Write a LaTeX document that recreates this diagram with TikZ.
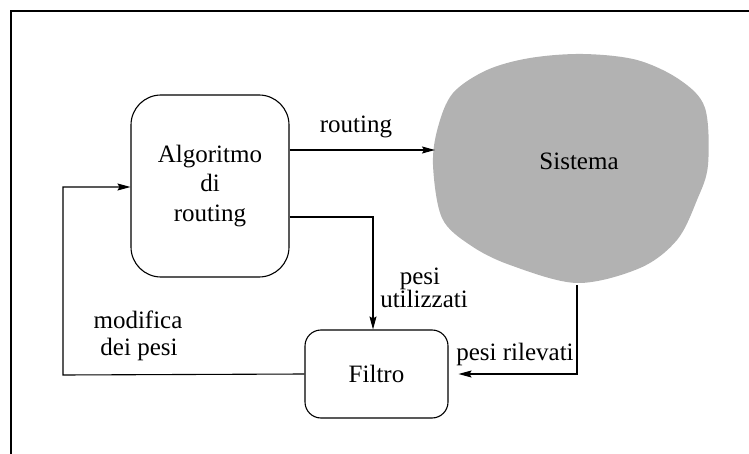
\documentclass[tikz,border=0pt]{standalone}
\usepackage{fontspec}
\setmainfont{Liberation Serif}
\usetikzlibrary{arrows.meta}
\begin{document}
\begin{tikzpicture}[x=1pt,y=-1pt,
  every node/.style={font=\fontsize{25}{29.5}\selectfont},
  box/.style={draw,line width=1.1pt,align=center,inner sep=0pt},
  lbl/.style={anchor=base,inner sep=0pt},
  link/.style={line width=1.1pt,-{Stealth[length=13pt,width=7pt,inset=2pt]}}]
\useasboundingbox (0,0) rectangle (749,454);
% outer frame (top and left edges)
\draw[line width=2.4pt] (11,454) -- (11,11) -- (749,11);

% the system: grey irregular blob
\fill[fill={rgb,255:red,178;green,178;blue,178}]
  plot[smooth cycle,tension=0.55] coordinates {
    (453,93) (487,70) (530,58) (583,54) (637,60) (680,80) (705,108)
    (708,165) (697,200) (677,240) (640,268) (577,283) (510,265)
    (470,245) (442,218) (433,165) (438,127)};
\node[lbl] (sys) at (579,170) {Sistema};
\coordinate (sysW) at (435,150);
\coordinate (sysS) at (577,285);

% blocks
\node[box,minimum width=158pt,minimum height=182pt,rounded corners=30pt]
  (alg) at (210,186) {Algoritmo\\di\\routing};
\node[box,minimum width=143pt,minimum height=88pt,rounded corners=16pt]
  (fil) at (376.5,374) {Filtro};

% connectors
\draw[link] ([yshift=36pt]alg.east) -- (sysW);
\draw[link] ([yshift=-31pt]alg.east) -| ([xshift=-3.5pt]fil.north);
\coordinate (fbk) at (63,375);
\draw[link] (fil.west) -- (fbk) |- ([yshift=-1pt]alg.west);
\draw[link] (sysS) |- ([xshift=10pt]fil.east);

% connector labels
\node[lbl] (lr) at (356,133) {routing};
\node[lbl] (lu1) at (420,284) {pesi};
\node[lbl] (lu2) at (424,307) {utilizzati};
\node[lbl] (lm1) at (138,328) {modifica};
\node[lbl] (lm2) at (139,355) {dei pesi};
\node[lbl] (lp) at (515,360) {pesi rilevati};
\end{tikzpicture}
\end{document}
